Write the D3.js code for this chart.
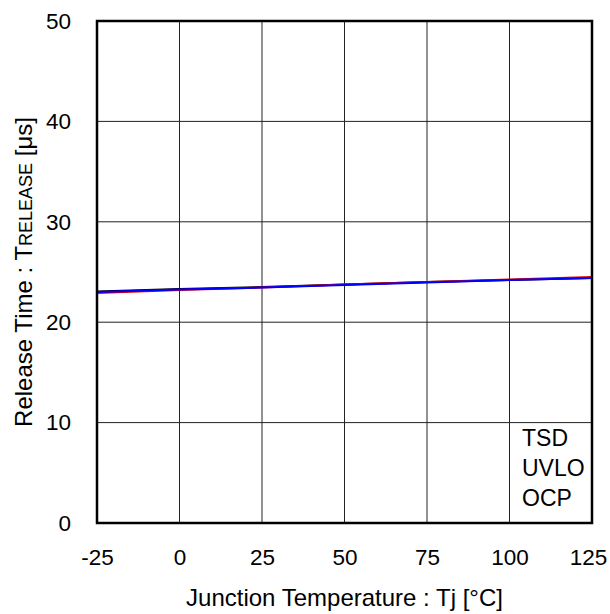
<!DOCTYPE html>
<html lang="en">
<head>
  <meta charset="UTF-8">
  <title>Release Time vs Junction Temperature</title>
  <style>
    body { margin: 0; background: #fff; font-family: 'Liberation Sans', Arial, sans-serif; }
  </style>
  <script src="https://d3js.org/d3.v7.min.js"></script>
</head>
<body>
<script>
  // Data
  const temps = [-25, 0, 25, 50, 75, 100, 125];
  const tsd  = [23.05, 23.3, 23.5, 23.75, 24.0, 24.2, 24.4];
  const uvlo = [22.9, 23.2, 23.45, 23.75, 24.0, 24.25, 24.5];
  const ocp  = [23.0, 23.25, 23.45, 23.7, 23.95, 24.2, 24.4];
  const xTicks = [-25, 0, 25, 50, 75, 100, 125];
  const yTicks = [0, 10, 20, 30, 40, 50];
  const legendNames = ["TSD", "UVLO", "OCP"];

  const W = 610, H = 614;
  const m = { left: 97, right: 18, top: 21, bottom: 91 };

  const svg = d3.select("body").append("svg")
    .attr("width", W)
    .attr("height", H);

  const x = d3.scaleLinear().domain([-25, 125]).range([m.left, W - m.right]);
  const y = d3.scaleLinear().domain([0, 50]).range([H - m.bottom, m.top]);

  // grid
  svg.append("g")
    .selectAll("line.gx")
    .data(xTicks.slice(1, -1))
    .enter().append("line")
    .attr("x1", d => x(d)).attr("x2", d => x(d))
    .attr("y1", y(0)).attr("y2", y(50))
    .attr("stroke", "#222").attr("stroke-width", 1);

  svg.append("g")
    .selectAll("line.gy")
    .data(yTicks.slice(1, -1))
    .enter().append("line")
    .attr("x1", x(-25)).attr("x2", x(125))
    .attr("y1", d => y(d)).attr("y2", d => y(d))
    .attr("stroke", "#222").attr("stroke-width", 1);

  // tick labels via d3 axes (tick marks hidden), plain hyphen for negatives
  const xAxis = svg.append("g")
    .attr("transform", `translate(0,${y(0)})`)
    .call(d3.axisBottom(x).tickValues(xTicks).tickFormat(d => String(d)).tickSize(0).tickPadding(26));
  const yAxis = svg.append("g")
    .attr("transform", `translate(${x(-25)},0)`)
    .call(d3.axisLeft(y).tickValues(yTicks).tickFormat(d => String(d)).tickSize(0).tickPadding(26));
  [xAxis, yAxis].forEach(a => {
    a.select(".domain").remove();
    a.selectAll("text")
      .style("font-family", "'Liberation Sans', Arial, sans-serif")
      .style("font-size", "22.5px")
      .attr("fill", "#000");
  });
  // keep the last x label inside the page
  xAxis.selectAll(".tick").filter(d => d === 125).select("text").attr("dx", -4);

  // series
  const line = d3.line().x((d, i) => x(temps[i])).y(d => y(d));
  const series = [
    { vals: tsd, color: "#000" },
    { vals: uvlo, color: "#e00000" },
    { vals: ocp, color: "#0000ff" }
  ];
  svg.append("g")
    .selectAll("path")
    .data(series)
    .enter().append("path")
    .attr("d", d => line(d.vals))
    .attr("fill", "none")
    .attr("stroke", d => d.color)
    .attr("stroke-width", 2);

  // frame
  svg.append("rect")
    .attr("x", x(-25)).attr("y", y(50))
    .attr("width", x(125) - x(-25)).attr("height", y(0) - y(50))
    .attr("fill", "none").attr("stroke", "#000").attr("stroke-width", 2.5);

  // legend text
  svg.append("g")
    .selectAll("text")
    .data(legendNames)
    .enter().append("text")
    .attr("x", 522)
    .attr("y", (d, i) => 446 + i * 30)
    .style("font-size", "23px")
    .text(d => d);

  // axis titles
  svg.append("text")
    .attr("x", (x(-25) + x(125)) / 2)
    .attr("y", 606)
    .attr("text-anchor", "middle")
    .style("font-size", "24px")
    .text("Junction Temperature : Tj [°C]");

  const yt = svg.append("text")
    .attr("transform", `translate(32,${(y(0) + y(50)) / 2}) rotate(-90)`)
    .attr("text-anchor", "middle")
    .style("font-size", "24px");
  yt.append("tspan").text("Release Time : T");
  yt.append("tspan").style("font-size", "18px").text("RELEASE");
  yt.append("tspan").text(" [μs]");
</script>
</body>
</html>
